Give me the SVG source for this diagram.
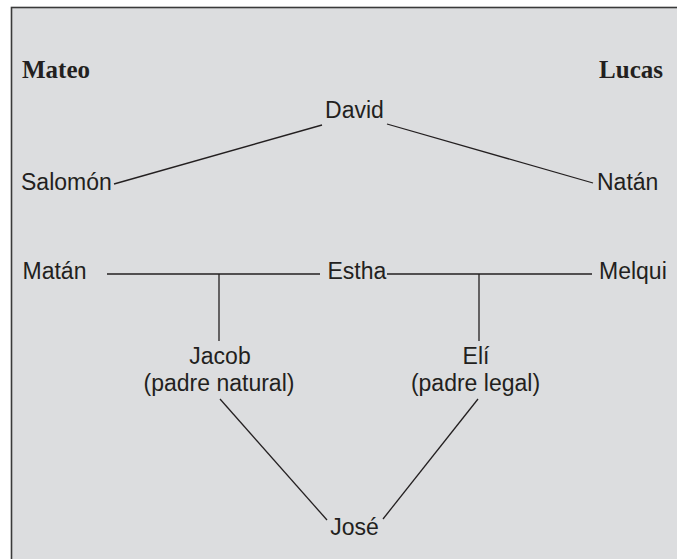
<svg xmlns="http://www.w3.org/2000/svg" width="677" height="559" viewBox="0 0 677 559">
  <style>
    .lbl { font-family: "Liberation Sans", Arial, sans-serif; font-size: 23px; fill: #231f20; }
    .hdr { font-family: "Liberation Serif", "Times New Roman", serif; font-size: 25px; font-weight: bold; fill: #231f20; }
    .ln { stroke: #231f20; stroke-width: 1.3; fill: none; }
    .mid { text-anchor: middle; }
  </style>
  <rect x="0" y="0" width="677" height="559" fill="#ffffff"/>
  <rect x="11.5" y="7.5" width="670" height="560" fill="#dcdddf" stroke="#3a3a3a" stroke-width="1.6"/>

  <g id="headers">
    <text class="hdr" x="22" y="78">Mateo</text>
    <text class="hdr" x="663" y="78" text-anchor="end">Lucas</text>
  </g>

  <g id="connectors">
    <line class="ln" x1="322" y1="125" x2="114" y2="184"/>
    <line class="ln" x1="387" y1="124" x2="593" y2="183"/>
    <line class="ln" x1="107" y1="274" x2="320" y2="274"/>
    <line class="ln" x1="387" y1="274" x2="592" y2="274"/>
    <line class="ln" x1="219" y1="274" x2="219" y2="341"/>
    <line class="ln" x1="479" y1="274" x2="479" y2="341"/>
    <line class="ln" x1="220" y1="399" x2="327" y2="520"/>
    <line class="ln" x1="383" y1="519" x2="478" y2="399"/>
  </g>

  <g id="david"><text class="lbl mid" x="354.5" y="118">David</text></g>
  <g id="salomon"><text class="lbl" x="21" y="190">Salomón</text></g>
  <g id="natan"><text class="lbl" x="597" y="190">Natán</text></g>
  <g id="matan"><text class="lbl" x="22.5" y="279">Matán</text></g>
  <g id="estha"><text class="lbl" x="327.5" y="279">Estha</text></g>
  <g id="melqui"><text class="lbl" x="599" y="279">Melqui</text></g>
  <g id="jacob">
    <text class="lbl mid" x="220" y="364">Jacob</text>
    <text class="lbl mid" x="219" y="391">(padre natural)</text>
  </g>
  <g id="eli">
    <text class="lbl mid" x="476" y="364">Elí</text>
    <text class="lbl mid" x="475.5" y="391">(padre legal)</text>
  </g>
  <g id="jose"><text class="lbl mid" x="354.5" y="535">José</text></g>
</svg>
